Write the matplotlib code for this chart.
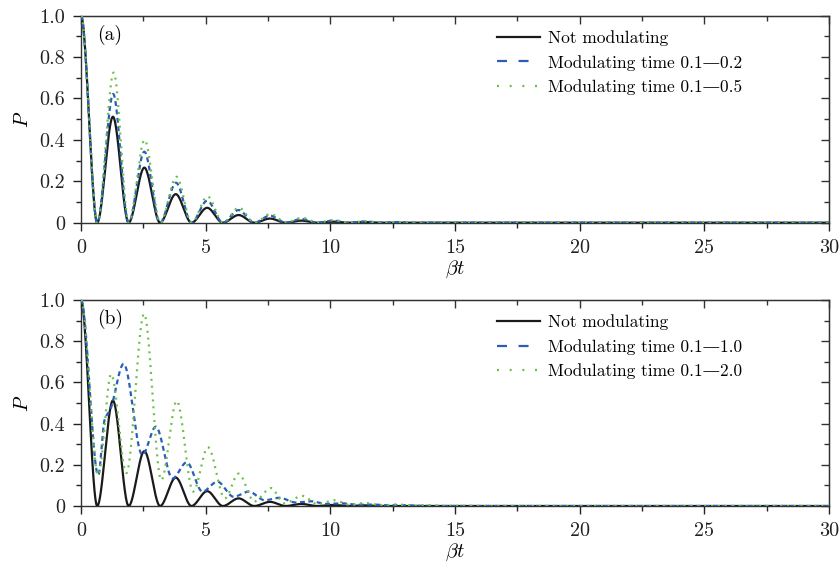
import numpy as np
import matplotlib
matplotlib.use("Agg")
import matplotlib.pyplot as plt
from matplotlib.lines import Line2D
from matplotlib.ticker import MultipleLocator, FixedLocator, FixedFormatter

# ---------------- data (key points) ----------------
# Not modulating (same in both panels)
black_t = [0.0, 0.65, 1.28, 1.91, 2.54, 3.17, 3.80, 4.43, 5.06, 5.69, 6.32,
           6.95, 7.58, 8.21, 8.84, 9.47, 10.10, 10.73, 11.36, 12.0, 30.0]
black_P = [1.0, 0.0, 0.512, 0.0, 0.266, 0.0, 0.138, 0.0, 0.072, 0.0, 0.037,
           0.0, 0.020, 0.0, 0.010, 0.0, 0.005, 0.0, 0.003, 0.0, 0.0]

# Panel (a): modulating time 0.1-0.2
blue_a_t = [0.0, 0.65, 1.29, 1.91, 2.54, 3.17, 3.81, 4.43, 5.06, 5.69, 6.32,
            6.95, 7.58, 8.21, 8.85, 9.47, 10.10, 10.73, 11.38, 12.0, 12.62, 13.2, 30.0]
blue_a_P = [1.0, 0.0, 0.622, 0.0, 0.343, 0.0, 0.193, 0.0, 0.106, 0.0, 0.061,
            0.0, 0.034, 0.0, 0.018, 0.0, 0.010, 0.0, 0.006, 0.0, 0.003, 0.0, 0.0]
# Panel (a): modulating time 0.1-0.5
green_a_t = [0.0, 0.66, 1.31, 1.92, 2.55, 3.18, 3.83, 4.44, 5.07, 5.70, 6.33,
             6.96, 7.60, 8.22, 8.87, 9.48, 10.12, 10.75, 11.40, 12.0, 12.63, 13.3, 30.0]
green_a_P = [1.0, 0.0, 0.725, 0.0, 0.400, 0.0, 0.222, 0.0, 0.127, 0.0, 0.073,
             0.0, 0.042, 0.0, 0.024, 0.0, 0.013, 0.0, 0.007, 0.0, 0.004, 0.0, 0.0]

# Panel (b): modulating time 0.1-1.0
blue_b_t = [0.0, 0.69, 0.95, 1.18, 1.71, 2.46, 3.00, 3.67, 4.24, 4.87, 5.47,
            6.12, 6.73, 7.37, 7.97, 8.60, 9.22, 9.85, 10.47, 11.10, 11.72,
            12.35, 12.97, 13.6, 14.3, 30.0]
blue_b_P = [1.0, 0.15, 0.42, 0.47, 0.690, 0.248, 0.385, 0.134, 0.212, 0.070, 0.118,
            0.045, 0.070, 0.028, 0.040, 0.017, 0.023, 0.010, 0.013, 0.006, 0.007,
            0.003, 0.004, 0.001, 0.0, 0.0]
# Panel (b): modulating time 0.1-2.0
green_b_t = [0.0, 0.69, 1.21, 1.82, 2.53, 3.22, 3.84, 4.50, 5.09, 5.77, 6.32,
             6.95, 7.62, 8.15, 8.87, 9.50, 10.15, 10.80, 11.40, 12.05, 12.65,
             13.30, 13.90, 14.50, 15.20, 16.0, 30.0]
green_b_P = [1.0, 0.15, 0.640, 0.160, 0.933, 0.126, 0.510, 0.070, 0.285, 0.037, 0.157,
             0.022, 0.087, 0.013, 0.049, 0.008, 0.028, 0.005, 0.015, 0.003, 0.008,
             0.002, 0.005, 0.001, 0.002, 0.0, 0.0]

x_ticks = [0, 5, 10, 15, 20, 25, 30]
x_ticklabels = ["0", "5", "10", "15", "20", "25", "30"]
y_ticks = [0.0, 0.2, 0.4, 0.6, 0.8, 1.0]
y_ticklabels = ["0", "0.2", "0.4", "0.6", "0.8", "1.0"]

label_black = "Not modulating"
labels_a = ["Modulating time 0.1\u20140.2", "Modulating time 0.1\u20140.5"]
labels_b = ["Modulating time 0.1\u20141.0", "Modulating time 0.1\u20142.0"]
panel_tags = ["(a)", "(b)"]


# ---------------- smooth rendering through the key points ----------------
def pchip(xk, yk, xs):
    xk = np.asarray(xk, float)
    yk = np.asarray(yk, float)
    h = np.diff(xk)
    d = np.diff(yk) / h
    m = np.zeros_like(yk)
    for i in range(1, len(xk) - 1):
        if d[i - 1] * d[i] > 0:
            w1 = 2 * h[i] + h[i - 1]
            w2 = h[i] + 2 * h[i - 1]
            m[i] = (w1 + w2) / (w1 / d[i - 1] + w2 / d[i])
    idx = np.clip(np.searchsorted(xk, xs, side="right") - 1, 0, len(xk) - 2)
    t = (xs - xk[idx]) / h[idx]
    h00 = 2 * t**3 - 3 * t**2 + 1
    h10 = t**3 - 2 * t**2 + t
    h01 = -2 * t**3 + 3 * t**2
    h11 = t**3 - t**2
    return (h00 * yk[idx] + h10 * h[idx] * m[idx]
            + h01 * yk[idx + 1] + h11 * h[idx] * m[idx + 1])


plt.rcParams["font.family"] = ["cmr10", "DejaVu Serif"]
plt.rcParams["mathtext.fontset"] = "cm"
plt.rcParams["axes.formatter.use_mathtext"] = True

FS_TICK = 14.5
FS_LEG = 12.5
FS_LAB = 14.5
C_BLACK = "#1a1a1a"
C_BLUE = "#2a5fb5"
C_GREEN = "#6cc048"

fig = plt.figure(figsize=(8.4, 5.67), dpi=100)
ax_a = fig.add_axes([81 / 840, 1 - 222.7 / 567, 748 / 840, 207 / 567])
ax_b = fig.add_axes([81 / 840, 1 - 506 / 567, 748 / 840, 206 / 567])

xs = np.linspace(0, 30, 6001)

panels = [
    (ax_a, blue_a_t, blue_a_P, green_a_t, green_a_P, labels_a, panel_tags[0]),
    (ax_b, blue_b_t, blue_b_P, green_b_t, green_b_P, labels_b, panel_tags[1]),
]

for ax, bt, bp, gt, gp, labs, tag in panels:
    ax.plot(xs, pchip(black_t, black_P, xs), color=C_BLACK, lw=1.6, zorder=3)
    ax.plot(xs, pchip(bt, bp, xs), color=C_BLUE, lw=1.6,
            linestyle=(0, (2.2, 1.6)), zorder=4)
    ax.plot(xs, pchip(gt, gp, xs), color=C_GREEN, lw=1.6,
            linestyle=(0, (0.9, 2.2)), zorder=5)

    ax.set_xlim(0, 30)
    ax.set_ylim(0, 1.0)
    ax.xaxis.set_major_locator(FixedLocator(x_ticks))
    ax.xaxis.set_major_formatter(FixedFormatter(x_ticklabels))
    ax.yaxis.set_major_locator(FixedLocator(y_ticks))
    ax.yaxis.set_major_formatter(FixedFormatter(y_ticklabels))
    ax.xaxis.set_minor_locator(MultipleLocator(2.5))
    ax.yaxis.set_minor_locator(MultipleLocator(0.1))
    ax.tick_params(which="both", direction="out", labelsize=FS_TICK,
                   colors="#222222", width=1.0, top=False, right=False)
    ax.tick_params(which="major", length=5.5, pad=6)
    ax.tick_params(which="minor", length=3.5)
    for s in ax.spines.values():
        s.set_linewidth(1.0)
        s.set_color("#333333")

    top = ax.secondary_xaxis("top")
    top.xaxis.set_major_locator(FixedLocator(x_ticks))
    top.xaxis.set_minor_locator(MultipleLocator(2.5))
    top.tick_params(which="both", direction="in", labeltop=False, width=1.0,
                    colors="#333333")
    top.tick_params(which="major", length=5.5)
    top.tick_params(which="minor", length=3.5)
    right = ax.secondary_yaxis("right")
    right.yaxis.set_major_locator(FixedLocator(y_ticks))
    right.yaxis.set_minor_locator(MultipleLocator(0.1))
    right.tick_params(which="both", direction="in", labelright=False, width=1.0,
                      colors="#333333")
    right.tick_params(which="major", length=5.5)
    right.tick_params(which="minor", length=3.5)

    ax.set_xlabel(r"$\beta t$", fontsize=FS_LAB)
    ax.set_ylabel(r"$P$", fontsize=FS_LAB)
    ax.yaxis.set_label_coords(-0.066, 0.5)
    ax.xaxis.set_label_coords(0.5, -0.172)

    ax.text(0.021, 0.906, tag, transform=ax.transAxes, fontsize=14,
            ha="left", va="center")

    handles = [
        Line2D([], [], color=C_BLACK, lw=1.6),
        Line2D([], [], color=C_BLUE, lw=1.6, linestyle=(0, (4.5, 5.2))),
        Line2D([], [], color=C_GREEN, lw=1.6, linestyle=(0, (0.9, 4.8))),
    ]
    ax.legend(handles=handles, labels=[label_black] + labs, loc="upper left",
              bbox_to_anchor=(0.556, 0.93), frameon=False, fontsize=FS_LEG,
              borderaxespad=0, borderpad=0, handlelength=2.5,
              handletextpad=0.45, labelspacing=0.5)

fig.savefig("out.png", dpi=100)
